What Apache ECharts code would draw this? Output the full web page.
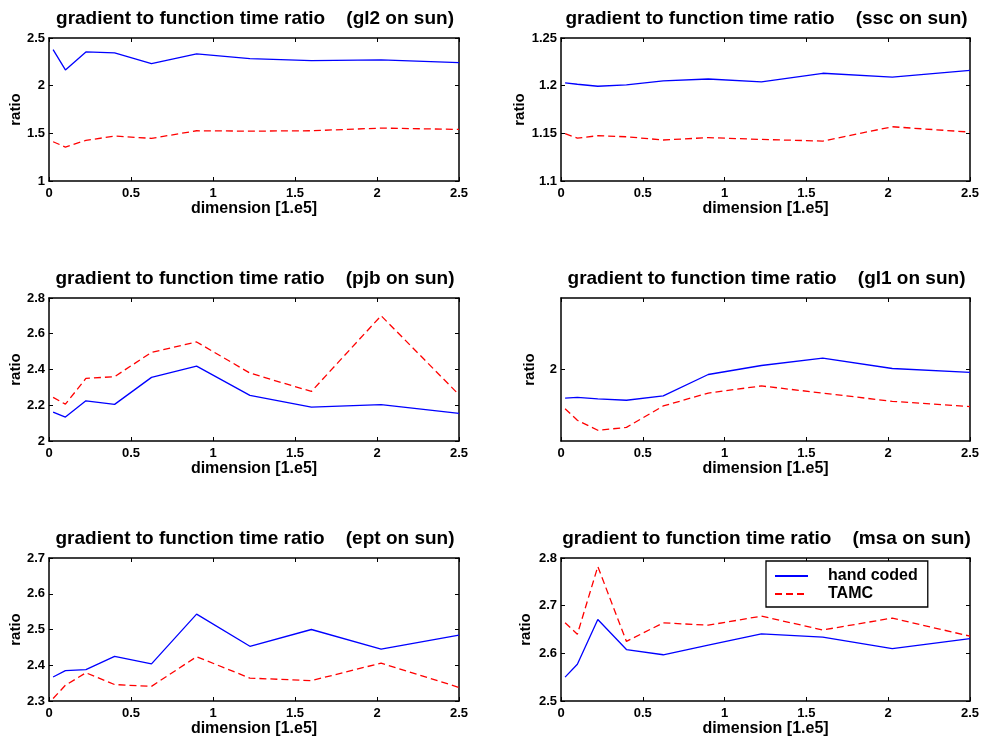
<!DOCTYPE html>
<html>
<head>
<meta charset="utf-8">
<script src="https://cdn.jsdelivr.net/npm/echarts@6/dist/echarts.min.js"></script>
<style>
html,body{margin:0;padding:0;background:#fff;}
#chart{width:983px;height:742px;}
</style>
</head>
<body>
<div id="chart"></div>
<script>
// dimension [1.e5]
const dims = [0.025, 0.1, 0.225, 0.4, 0.625, 0.9, 1.225, 1.6, 2.025, 2.5];
const xTicks = [0, 0.5, 1, 1.5, 2, 2.5];

const seriesNames = ['hand coded', 'TAMC'];

const gl2Hand = [2.378, 2.165, 2.354, 2.343, 2.231, 2.333, 2.284, 2.263, 2.270, 2.242];
const gl2Tamc = [1.412, 1.356, 1.426, 1.471, 1.447, 1.527, 1.523, 1.527, 1.555, 1.541];

const sscHand = [1.203, 1.2015, 1.1994, 1.2008, 1.205, 1.207, 1.204, 1.213, 1.209, 1.216];
const sscTamc = [1.1496, 1.145, 1.1475, 1.1464, 1.143, 1.1455, 1.1436, 1.1419, 1.1569, 1.1513];

const pjbHand = [2.162, 2.134, 2.225, 2.205, 2.356, 2.419, 2.255, 2.190, 2.203, 2.155];
const pjbTamc = [2.244, 2.206, 2.350, 2.360, 2.496, 2.554, 2.380, 2.277, 2.701, 2.259];

const gl1Hand = [1.960, 1.961, 1.959, 1.957, 1.963, 1.993, 2.0056, 2.016, 2.0014, 1.996];
const gl1Tamc = [1.945, 1.929, 1.915, 1.919, 1.949, 1.967, 1.977, 1.967, 1.9555, 1.948];

const eptHand = [2.367, 2.385, 2.388, 2.425, 2.404, 2.543, 2.453, 2.500, 2.445, 2.484];
const eptTamc = [2.307, 2.344, 2.379, 2.346, 2.341, 2.424, 2.364, 2.357, 2.406, 2.338];

const msaHand = [2.550, 2.577, 2.671, 2.608, 2.597, 2.617, 2.641, 2.634, 2.610, 2.631];
const msaTamc = [2.664, 2.640, 2.782, 2.625, 2.664, 2.659, 2.678, 2.649, 2.674, 2.636];

const titles = [
  'gradient to function time ratio    (gl2 on sun)',
  'gradient to function time ratio    (ssc on sun)',
  'gradient to function time ratio    (pjb on sun)',
  'gradient to function time ratio    (gl1 on sun)',
  'gradient to function time ratio    (ept on sun)',
  'gradient to function time ratio    (msa on sun)'
];
const handData = [gl2Hand, sscHand, pjbHand, gl1Hand, eptHand, msaHand];
const tamcData = [gl2Tamc, sscTamc, pjbTamc, gl1Tamc, eptTamc, msaTamc];
const yMins = [1, 1.1, 2, 1.9, 2.3, 2.5];
const yMaxs = [2.5, 1.25, 2.8, 2.1, 2.7, 2.8];
const yIntervals = [0.5, 0.05, 0.2, 0.1, 0.1, 0.1];
const yTickOverride = [null, null, null, [2], null, null];

// layout (pixels)
const colLeft = [49, 561];
const colWidth = [410, 409];
const rowTop = [38, 298, 558];
const plotHeight = 143;
const yNameGaps = [25, 30, 25, 24, 25, 28];

const FONT = '"Liberation Sans", Arial, Helvetica, sans-serif';
const pairs = (ys) => dims.map((x, i) => [x, ys[i]]);

const grid = [], xAxis = [], yAxis = [], series = [], title = [];
for (let p = 0; p < 6; p++) {
  const c = p % 2, r = Math.floor(p / 2);
  grid.push({left: colLeft[c], top: rowTop[r], width: colWidth[c], height: plotHeight, containLabel: false});
  title.push({
    text: titles[p],
    left: colLeft[c] + colWidth[c] / 2 + 1,
    top: rowTop[r] - 29,
    textAlign: 'center',
    padding: 0,
    textStyle: {fontFamily: FONT, fontSize: 19, fontWeight: 'bold', color: '#000'}
  });
  const axLine = {show: true, onZero: false, lineStyle: {color: '#000', width: 1.5}};
  const tick = {show: true, inside: true, length: 4, lineStyle: {color: '#000', width: 1}};
  xAxis.push({
    type: 'value', gridIndex: p, position: 'bottom', min: 0, max: 2.5, interval: 0.5,
    axisLine: axLine, axisTick: tick, splitLine: {show: false},
    axisLabel: {color: '#000', fontFamily: FONT, fontSize: 13, fontWeight: 'bold', margin: 6},
    name: 'dimension [1.e5]', nameLocation: 'middle', nameGap: 20,
    nameTextStyle: {color: '#000', fontFamily: FONT, fontSize: 16, fontWeight: 'bold'}
  });
  xAxis.push({
    type: 'value', gridIndex: p, position: 'top', min: 0, max: 2.5, interval: 0.5,
    axisLine: axLine, axisTick: tick, splitLine: {show: false}, axisLabel: {show: false}
  });
  const yl = {
    type: 'value', gridIndex: p, position: 'left', min: yMins[p], max: yMaxs[p], interval: yIntervals[p],
    axisLine: axLine, axisTick: Object.assign({}, tick), splitLine: {show: false},
    axisLabel: {color: '#000', fontFamily: FONT, fontSize: 13, fontWeight: 'bold', margin: 4},
    name: 'ratio', nameLocation: 'middle', nameGap: yNameGaps[p],
    nameTextStyle: {color: '#000', fontFamily: FONT, fontSize: 15, fontWeight: 'bold'}
  };
  const yr = {
    type: 'value', gridIndex: p, position: 'right', min: yMins[p], max: yMaxs[p], interval: yIntervals[p],
    axisLine: axLine, axisTick: Object.assign({}, tick), splitLine: {show: false}, axisLabel: {show: false}
  };
  if (yTickOverride[p]) {
    yl.axisTick.customValues = yTickOverride[p];
    yl.axisLabel.customValues = yTickOverride[p];
    yr.axisTick.customValues = yTickOverride[p];
  }
  yAxis.push(yl, yr);
  series.push({
    name: seriesNames[0], type: 'line', xAxisIndex: 2 * p, yAxisIndex: 2 * p,
    data: pairs(handData[p]), symbol: 'none', silent: true, animation: false,
    lineStyle: {color: '#0000ff', width: 1.3, type: 'solid'}, itemStyle: {color: '#0000ff'}
  });
  series.push({
    name: seriesNames[1], type: 'line', xAxisIndex: 2 * p, yAxisIndex: 2 * p,
    data: pairs(tamcData[p]), symbol: 'none', silent: true, animation: false,
    lineStyle: {color: '#ff0000', width: 1.3, type: [7, 4]}, itemStyle: {color: '#ff0000'}
  });
}

const chart = echarts.init(document.getElementById('chart'), null, {renderer: 'canvas'});
chart.setOption({
  backgroundColor: '#fff',
  animation: false,
  title: title,
  grid: grid,
  xAxis: xAxis,
  yAxis: yAxis,
  series: series,
  legend: {
    data: seriesNames,
    orient: 'vertical',
    left: 766, top: 561,
    padding: [7, 10, 5, 8],
    itemWidth: 33, itemHeight: 12, itemGap: 2,
    itemStyle: {opacity: 0, borderWidth: 0},
    borderColor: '#000', borderWidth: 1.3, backgroundColor: '#fff',
    selectedMode: false,
    textStyle: {color: '#000', fontFamily: FONT, fontSize: 16, fontWeight: 'bold', padding: [0, 0, 0, 15], lineHeight: 15}
  }
});
</script>
</body>
</html>
